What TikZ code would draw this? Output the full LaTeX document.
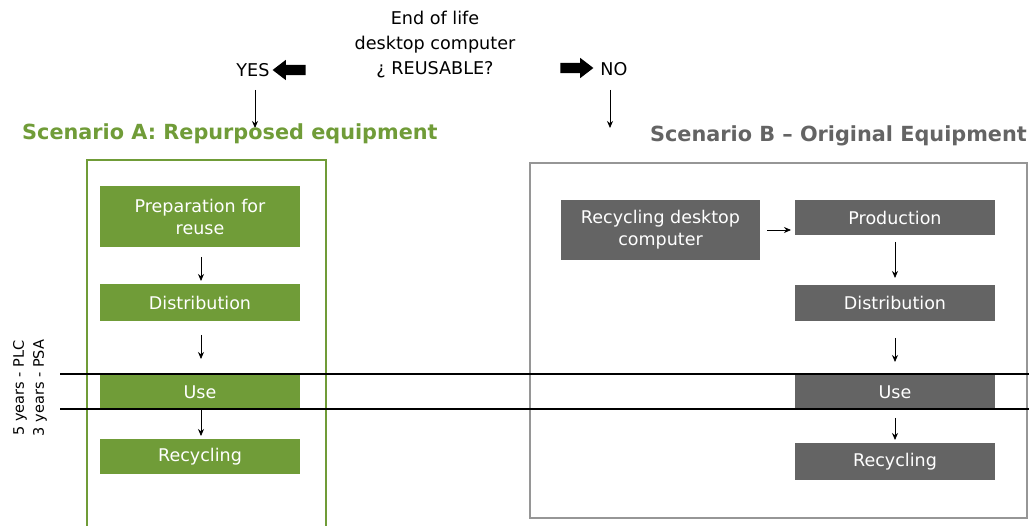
\documentclass[tikz,border=0pt]{standalone}
\usepackage{fontspec}
\setmainfont{DejaVu Sans}
\usetikzlibrary{shapes.arrows,arrows.meta}
\definecolor{grA}{RGB}{112,156,56}
\definecolor{gyB}{RGB}{100,100,100}
\definecolor{frB}{RGB}{150,150,150}
\tikzset{
  gbox/.style={fill=grA,text=white,minimum width=200pt,align=center,font=\fontsize{17.5}{22}\selectfont,inner sep=0pt},
  bbox/.style={fill=gyB,text=white,minimum width=200pt,align=center,font=\fontsize{17.5}{22}\selectfont,inner sep=0pt},
  thin arrow/.style={-{Stealth[length=7pt,width=6pt]},line width=0.8pt},
  fat arrow/.style={single arrow,fill=black,inner sep=0pt,minimum height=33pt,single arrow head extend=5pt,single arrow tip angle=75},
  lbl/.style={font=\fontsize{17.6}{25}\selectfont}
}
\begin{document}
\begin{tikzpicture}[x=1pt,y=-1pt]
\useasboundingbox (0,0) rectangle (1029,526);
% header
\node[lbl,align=center] (q) at (435,45) {End of life\\desktop computer\\¿ REUSABLE?};
\node[lbl] (yes) at (253,70) {YES};
\node[lbl] (no) at (614,69) {NO};
\node[fat arrow,shape border rotate=180] (la) at (292.5,70) {\rule{0pt}{10pt}};
\node[fat arrow] (ra) at (573.5,68) {\rule{0pt}{10pt}};
\coordinate (ya) at (255,90);
\coordinate (yb) at (255,128);
\coordinate (na) at (610,90);
\coordinate (nb) at (610,128);
\draw[thin arrow] (ya) -- (yb);
\draw[thin arrow] (na) -- (nb);
% titles
\node[font=\fontsize{20.8}{24}\selectfont\bfseries,text=grA,anchor=west,inner sep=0pt] (tA) at (22,134) {Scenario A: Repurposed equipment};
\node[font=\fontsize{20.8}{24}\selectfont\bfseries,text=gyB,anchor=east,inner sep=0pt] (tB) at (1027,136) {Scenario B – Original Equipment};
% frames
\draw[grA,line width=2pt] (326,530) -- (326,160) -- (87,160) -- (87,530);
\draw[frB,line width=2pt] (530,163) rectangle (1027,518);
% scenario A boxes
\node[gbox,minimum height=61pt] (a1) at (200,216.5) {Preparation for\\reuse};
\node[gbox,minimum height=37pt] (a2) at (200,302.5) {Distribution};
\node[gbox,minimum height=35pt] (a3) at (200,392.5) {Use};
\node[gbox,minimum height=35pt] (a4) at (200,456.5) {Recycling};
\coordinate (a12s) at (201,257); \coordinate (a12e) at (201,281);
\coordinate (a23s) at (201,335); \coordinate (a23e) at (201,359);
\coordinate (a34s) at (201,410); \coordinate (a34e) at (201,436);
\draw[thin arrow] (a12s) -- (a12e);
\draw[thin arrow] (a23s) -- (a23e);
\draw[thin arrow] (a34s) -- (a34e);
% scenario B boxes
\node[bbox,minimum height=60pt,minimum width=199pt] (b0) at (660.5,230) {Recycling desktop\\computer};
\node[bbox,minimum height=35pt] (b1) at (895,217.5) {Production};
\node[bbox,minimum height=36pt] (b2) at (895,303) {Distribution};
\node[bbox,minimum height=36pt] (b3) at (895,392) {Use};
\node[bbox,minimum height=37pt] (b4) at (895,461.5) {Recycling};
\coordinate (b01s) at (767,230); \coordinate (b01e) at (791,230);
\coordinate (b12s) at (895,242); \coordinate (b12e) at (895,278);
\coordinate (b23s) at (895,338); \coordinate (b23e) at (895,362);
\coordinate (b34s) at (895,418); \coordinate (b34e) at (895,440);
\draw[thin arrow] (b01s) -- (b01e);
\draw[thin arrow] (b12s) -- (b12e);
\draw[thin arrow] (b23s) -- (b23e);
\draw[thin arrow] (b34s) -- (b34e);
% time lines
\coordinate (l1a) at (60,374); \coordinate (l1b) at (1029,374);
\coordinate (l2a) at (60,409); \coordinate (l2b) at (1029,409);
\draw[line width=1.5pt] (l1a) -- (l1b);
\draw[line width=1.5pt] (l2a) -- (l2b);
\node[rotate=90,align=center,font=\fontsize{14.5}{20}\selectfont] (yrs) at (30,388) {5 years - PLC\\3 years - PSA};
\end{tikzpicture}
\end{document}
